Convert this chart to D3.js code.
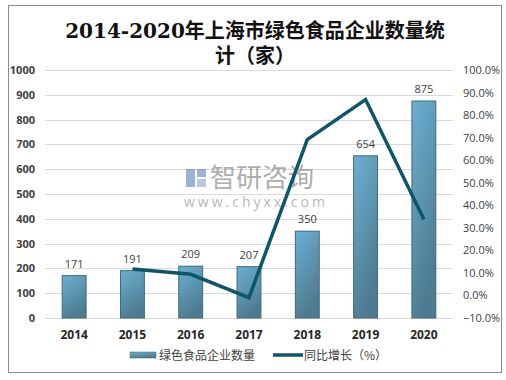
<!DOCTYPE html>
<html><head><meta charset="utf-8">
<script src="https://cdn.jsdelivr.net/npm/d3@7"></script>
<style>
html,body{margin:0;padding:0;background:#fff;}
svg{display:block;}
</style></head>
<body>
<svg id="c" width="506" height="380"></svg>
<script>
const years = ["2014","2015","2016","2017","2018","2019","2020"];
const counts = [171, 191, 209, 207, 350, 654, 875];
const growthYears = ["2015","2016","2017","2018","2019","2020"];
const growth = [11.7, 9.4, -1.0, 69.1, 86.9, 33.8];
const leftTicks = [0,100,200,300,400,500,600,700,800,900,1000];
const rightTicks = [-10,0,10,20,30,40,50,60,70,80,90,100];
const titleLines = ["2014-2020年上海市绿色食品企业数量统", "计（家）"];
const legendLabels = ["绿色食品企业数量", "同比增长（%）"];

const svg = d3.select("#c");
const plot = {l:45, r:453, t:70, b:318};
const cjk = "'Noto Sans CJK SC','Noto Sans',sans-serif";
const num = "'Open Sans','Noto Sans',sans-serif";

const defs = svg.append("defs");
const g1 = defs.append("linearGradient").attr("id","barGrad").attr("x1","0").attr("y1","0").attr("x2","0.4").attr("y2","1");
g1.append("stop").attr("offset","0").attr("stop-color","#6cb0d3");
g1.append("stop").attr("offset","1").attr("stop-color","#4d7b8f");

svg.append("rect").attr("x",8.5).attr("y",5.5).attr("width",493).attr("height",367)
  .attr("fill","#fff").attr("stroke","#8c8c8c").attr("stroke-width",1);

const title = svg.append("text").attr("text-anchor","middle")
  .attr("font-family","'DejaVu Serif','Noto Sans CJK SC',serif").attr("font-weight","bold")
  .attr("font-size",20).attr("fill","#111");
title.append("tspan").attr("x",255).attr("y",38).text(titleLines[0]);
title.append("tspan").attr("x",255).attr("y",63).text(titleLines[1]);

const x = d3.scaleBand().domain(years).range([plot.l, plot.r]).paddingInner(0.59).paddingOuter(0.295);
const y = d3.scaleLinear().domain([0,1000]).range([plot.b, plot.t]);
const y2 = d3.scaleLinear().domain([-10,100]).range([plot.b, plot.t]);

svg.append("g").selectAll("line").data(leftTicks).join("line")
  .attr("x1",plot.l).attr("x2",plot.r)
  .attr("y1",d=>Math.round(y(d))+0.5).attr("y2",d=>Math.round(y(d))+0.5)
  .attr("stroke","#d9d9d9").attr("stroke-width",1);

const la = svg.append("g").attr("transform",`translate(${plot.l},0)`)
  .call(d3.axisLeft(y).tickValues(leftTicks).tickSize(0).tickPadding(10).tickFormat(d3.format("d")));
la.select(".domain").remove();
la.selectAll("text").attr("font-family",num).attr("font-weight","bold").attr("font-size",11).attr("fill","#404040");

const ra = svg.append("g").attr("transform",`translate(${plot.r},0)`)
  .call(d3.axisRight(y2).tickValues(rightTicks).tickSize(0).tickPadding(10).tickFormat(d=>d3.format(".1f")(d)+"%"));
ra.select(".domain").remove();
ra.selectAll("text").attr("font-family",num).attr("font-size",11).attr("fill","#404040");

const ba = svg.append("g").attr("transform",`translate(0,${plot.b})`)
  .call(d3.axisBottom(x).tickSize(0).tickPadding(12));
ba.select(".domain").remove();
ba.selectAll("text").attr("font-family",num).attr("font-weight","bold").attr("font-size",12).attr("fill","#262626");

// watermark
const wm = svg.append("g").attr("opacity",0.6);
wm.append("rect").attr("x",186).attr("y",169).attr("width",9).attr("height",18).attr("fill","#5b7fb5");
wm.append("rect").attr("x",197).attr("y",169).attr("width",9).attr("height",8).attr("fill","#5b7fb5");
wm.append("rect").attr("x",197).attr("y",179).attr("width",9).attr("height",8).attr("fill","#8aa5cc");
wm.append("text").attr("x",210).attr("y",187).attr("font-family",cjk).attr("font-size",26).attr("fill","#777").text("智研咨询");
wm.append("text").attr("x",184).attr("y",207).attr("font-family",num).attr("font-size",14).attr("letter-spacing",3).attr("fill","#888").text("www.chyxx.com");

svg.append("g").selectAll("rect").data(years).join("rect")
  .attr("x",d=>x(d)).attr("width",x.bandwidth())
  .attr("y",(d,i)=>y(counts[i])).attr("height",(d,i)=>plot.b - y(counts[i]))
  .attr("fill","url(#barGrad)").attr("stroke","#3d6a7e").attr("stroke-width",1);

svg.append("g").selectAll("text").data(years).join("text")
  .attr("x",d=>x(d)+x.bandwidth()/2).attr("y",(d,i)=>y(counts[i])-8)
  .attr("text-anchor","middle").attr("font-family",num).attr("font-size",11).attr("fill","#404040")
  .text((d,i)=>counts[i]);

const line = d3.line().x((d,i)=>x(growthYears[i])+x.bandwidth()/2).y(d=>y2(d));
svg.append("path").datum(growth).attr("d",line).attr("fill","none")
  .attr("stroke","#0d5669").attr("stroke-width",3.5).attr("stroke-linejoin","miter");

const lg = svg.append("g");
lg.append("rect").attr("x",130).attr("y",352).attr("width",26).attr("height",6).attr("fill","url(#barGrad)").attr("stroke","#3d6a7e").attr("stroke-width",0.5);
lg.append("text").attr("x",159).attr("y",359.5).attr("font-family",cjk).attr("font-size",12).attr("fill","#404040").text(legendLabels[0]);
lg.append("line").attr("x1",273).attr("x2",303).attr("y1",355).attr("y2",355).attr("stroke","#0d5669").attr("stroke-width",3.5);
lg.append("text").attr("x",304).attr("y",359.5).attr("font-family",cjk).attr("font-size",12).attr("fill","#404040").text(legendLabels[1]);
</script>
</body></html>
